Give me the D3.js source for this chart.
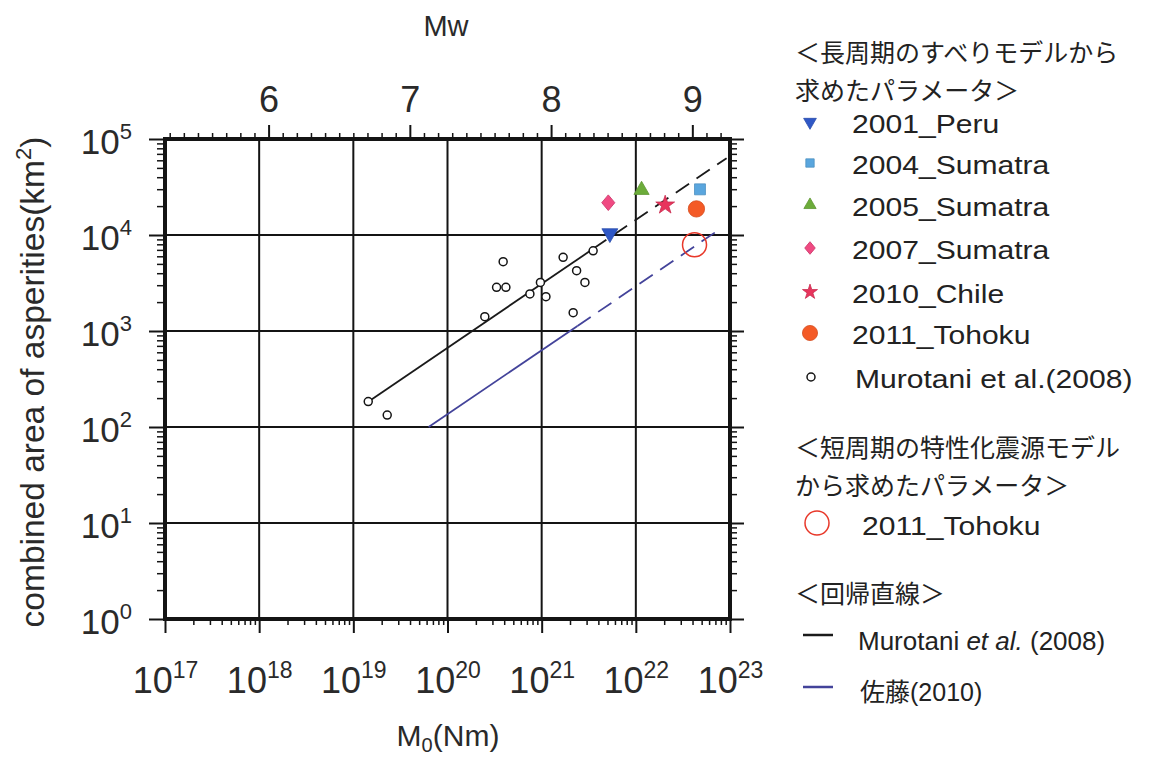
<!DOCTYPE html>
<html>
<head>
<meta charset="utf-8">
<script src="https://cdn.jsdelivr.net/npm/d3@7"></script>
<style>
  body { margin: 0; background: #fff; }
  svg { display: block; font-family: "Liberation Sans", Arial, sans-serif; }
  .jp { font-family: "Noto Sans CJK JP", sans-serif; }
</style>
</head>
<body>
<svg id="chart" width="1155" height="759"></svg>
<script>
// Murotani et al. (2008) data set
const murotaniM0 = [1.44e19, 2.29e19, 2.49e20, 3.9e20, 3.32e20, 4.17e20, 7.5e20, 9.7e20, 1.11e21, 1.69e21, 2.35e21, 2.88e21, 2.16e21, 3.52e21];
const murotaniArea = [184, 133, 1410, 5270, 2850, 2850, 2430, 3210, 2280, 5860, 4250, 3210, 1550, 6850];

// long period slip models
const quakeNames = ["2001_Peru", "2004_Sumatra", "2005_Sumatra", "2007_Sumatra", "2010_Chile", "2011_Tohoku"];
const quakeM0 = [5.3e21, 4.8e22, 1.15e22, 5.1e21, 2.05e22, 4.4e22];
const quakeArea = [10400, 29900, 29400, 21700, 20500, 18700];
const quakeColors = ["#2f58c6", "#5aa6de", "#6cac3a", "#f04a82", "#e8345c", "#f45a26"];
const quakeShapes = ["triDown", "square", "triangle", "diamond", "star", "circle"];

// short period characterized source model
const shortNames = ["2011_Tohoku"];
const shortM0 = [4.2e22];
const shortArea = [7900];

// regression lines  A = coef * M0^(2/3)
const regNames = ["Murotani", "佐藤(2010)"];
const regCoef = [3.1e-11, 6.3e-12];
const regSolid = [[1.44e19, 3.52e21], [6.3e19, 2.4e21]];
const regDashed = [[3.52e21, 9.2e22], [2.4e21, 7.2e22]];
const regColors = ["#1a1a1a", "#43439a"];

// axes
const xMajor = [1e17, 1e18, 1e19, 1e20, 1e21, 1e22, 1e23];
const yMajor = [1, 10, 100, 1e3, 1e4, 1e5];
const mwMajor = [6, 7, 8, 9];

const svg = d3.select("#chart");
const x = d3.scaleLog().domain([1e17, 1e23]).range([165, 730]);
const y = d3.scaleLog().domain([1, 1e5]).range([619, 139]);
// Mw = (log10 M0 - 9.1) / 1.5
const mw = d3.scaleLinear().domain([(17 - 9.1) / 1.5, (23 - 9.1) / 1.5]).range([165, 730]);

const xMinor = x.ticks().filter(v => !xMajor.includes(v));
const yMinor = y.ticks().filter(v => !yMajor.includes(v));
const mwMinor = d3.range(53, 93).map(v => v / 10).filter(v => !mwMajor.includes(v));

const ink = "#141414";

// gridlines
svg.append("g").selectAll("line")
  .data(xMajor.slice(1, -1)).join("line")
  .attr("x1", d => x(d)).attr("x2", d => x(d))
  .attr("y1", y(1)).attr("y2", y(1e5))
  .attr("stroke", ink).attr("stroke-width", 2);
svg.append("g").selectAll("line")
  .data(yMajor.slice(1, -1)).join("line")
  .attr("x1", x(1e17)).attr("x2", x(1e23))
  .attr("y1", d => y(d)).attr("y2", d => y(d))
  .attr("stroke", ink).attr("stroke-width", 2);

function styleAxis(g, w) {
  g.select(".domain").remove();
  g.selectAll(".tick line").attr("stroke", ink).attr("stroke-width", w);
}

function powLabel(sel, fs, sup) {
  sel.each(function (d) {
    const t = d3.select(this).text("");
    t.append("tspan").text("10");
    t.append("tspan").attr("font-size", sup).attr("dy", -fs * 0.42)
      .text(Math.round(Math.log10(d)));
  });
}

// bottom axis
svg.append("g").attr("transform", `translate(0,${y(1)})`)
  .call(d3.axisBottom(x).tickValues(xMinor).tickSize(6).tickFormat(""))
  .call(g => styleAxis(g, 1.5));
const gB = svg.append("g").attr("transform", `translate(0,${y(1)})`)
  .call(d3.axisBottom(x).tickValues(xMajor).tickSize(14))
  .call(g => styleAxis(g, 2));
gB.selectAll(".tick text").attr("y", 74).attr("dy", null)
  .attr("fill", "#2a2a2a").attr("font-size", 36)
  .call(powLabel, 36, 23);

// left axis
svg.append("g").attr("transform", `translate(${x(1e17)},0)`)
  .call(d3.axisLeft(y).tickValues(yMinor).tickSize(8).tickFormat(""))
  .call(g => styleAxis(g, 1.5));
const gL = svg.append("g").attr("transform", `translate(${x(1e17)},0)`)
  .call(d3.axisLeft(y).tickValues(yMajor).tickSize(16))
  .call(g => styleAxis(g, 2));
gL.selectAll(".tick text").attr("x", -33).attr("y", 14).attr("dy", null)
  .attr("fill", "#2a2a2a").attr("font-size", 35)
  .call(powLabel, 35, 22);

// right axis
svg.append("g").attr("transform", `translate(${x(1e23)},0)`)
  .call(d3.axisRight(y).tickValues(yMinor).tickSize(7).tickFormat(""))
  .call(g => styleAxis(g, 1.5));
svg.append("g").attr("transform", `translate(${x(1e23)},0)`)
  .call(d3.axisRight(y).tickValues(yMajor).tickSize(14).tickFormat(""))
  .call(g => styleAxis(g, 2));

// top axis (Mw)
svg.append("g").attr("transform", `translate(0,${y(1e5)})`)
  .call(d3.axisTop(mw).tickValues(mwMinor).tickSize(6).tickFormat(""))
  .call(g => styleAxis(g, 1.5));
const gT = svg.append("g").attr("transform", `translate(0,${y(1e5)})`)
  .call(d3.axisTop(mw).tickValues(mwMajor).tickSize(14).tickFormat(d3.format("d")))
  .call(g => styleAxis(g, 2));
gT.selectAll(".tick text").attr("y", -27).attr("dy", null)
  .attr("fill", "#2a2a2a").attr("font-size", 36);

// frame
svg.append("rect")
  .attr("x", x(1e17)).attr("y", y(1e5))
  .attr("width", x(1e23) - x(1e17)).attr("height", y(1) - y(1e5))
  .attr("fill", "none").attr("stroke", ink).attr("stroke-width", 4);

// regression lines
const regY = (i, m) => y(regCoef[i] * Math.pow(m, 2 / 3));
regNames.forEach((n, i) => {
  svg.append("line")
    .attr("x1", x(regSolid[i][0])).attr("y1", regY(i, regSolid[i][0]))
    .attr("x2", x(regSolid[i][1])).attr("y2", regY(i, regSolid[i][1]))
    .attr("stroke", regColors[i]).attr("stroke-width", 1.8);
  svg.append("line")
    .attr("x1", x(regDashed[i][0])).attr("y1", regY(i, regDashed[i][0]))
    .attr("x2", x(regDashed[i][1])).attr("y2", regY(i, regDashed[i][1]))
    .attr("stroke", regColors[i]).attr("stroke-width", 1.8)
    .attr("stroke-dasharray", "16,9");
});

// Murotani points
svg.append("g").selectAll("circle")
  .data(murotaniM0).join("circle")
  .attr("cx", d => x(d)).attr("cy", (d, i) => y(murotaniArea[i]))
  .attr("r", 4).attr("fill", "#fff").attr("stroke", ink).attr("stroke-width", 1.5);

// marker shapes
const shapeMap = {
  triDown: d3.symbolTriangle, square: d3.symbolSquare, triangle: d3.symbolTriangle,
  diamond: d3.symbolSquare, star: d3.symbolStar, circle: d3.symbolCircle
};
const shapeTf = { triDown: "rotate(180)", diamond: "scale(1,1.2) rotate(45)" };
function marker(g, shape, color, size) {
  g.append("path")
    .attr("d", d3.symbol(shapeMap[shape], size)())
    .attr("transform", shapeTf[shape] || null)
    .attr("fill", color)
    .attr("stroke", d3.color(color).darker(0.4))
    .attr("stroke-width", 0.8);
}
const plotSizes = { triDown: 110, square: 120, triangle: 100, diamond: 85, star: 110, circle: 210 };
quakeNames.forEach((n, i) => {
  const g = svg.append("g").attr("transform", `translate(${x(quakeM0[i])},${y(quakeArea[i])})`);
  marker(g, quakeShapes[i], quakeColors[i], plotSizes[quakeShapes[i]]);
});

// short period Tohoku
svg.append("g").selectAll("circle")
  .data(shortM0).join("circle")
  .attr("cx", d => x(d)).attr("cy", (d, i) => y(shortArea[i]))
  .attr("r", 12).attr("fill", "none").attr("stroke", "#e8382a").attr("stroke-width", 1.5);

// axis titles
svg.append("text").attr("x", 446).attr("y", 36).attr("text-anchor", "middle")
  .attr("font-size", 29).attr("fill", "#2a2a2a").text("Mw");
const xt = svg.append("text").attr("x", 448).attr("y", 746).attr("text-anchor", "middle")
  .attr("font-size", 30).attr("fill", "#2a2a2a");
xt.append("tspan").text("M");
xt.append("tspan").attr("font-size", 20).attr("dy", 6).text("0");
xt.append("tspan").attr("dy", -6).text("(Nm)");
const yt = svg.append("text").attr("transform", "translate(44,382) rotate(-90)")
  .attr("text-anchor", "middle").attr("font-size", 33.5).attr("fill", "#2a2a2a");
yt.append("tspan").text("combined area of asperities(km");
yt.append("tspan").attr("font-size", 22).attr("dy", -13).text("2");
yt.append("tspan").attr("dy", 13).text(")");

// legend
const leg = svg.append("g").attr("fill", "#222");
const jpLine = (txt, yy) => leg.append("text").attr("class", "jp")
  .attr("x", 795).attr("y", yy).attr("font-size", 25).text(txt);
jpLine("＜長周期のすべりモデルから", 62);
jpLine("求めたパラメータ＞", 100);

const legRows = [122, 163, 205, 248, 292, 333];
const legSizes = { triDown: 70, square: 70, triangle: 65, diamond: 55, star: 70, circle: 180 };
quakeNames.forEach((n, i) => {
  const g = leg.append("g").attr("transform", `translate(810,${legRows[i]})`);
  marker(g, quakeShapes[i], quakeColors[i], legSizes[quakeShapes[i]]);
  leg.append("text").attr("transform", `translate(852,${legRows[i] + 11}) scale(1.18,1)`)
    .attr("font-size", 25.5).text(n);
});
leg.append("circle").attr("cx", 811).attr("cy", 377).attr("r", 4)
  .attr("fill", "#fff").attr("stroke", ink).attr("stroke-width", 1.5);
leg.append("text").attr("transform", "translate(855,388) scale(1.18,1)")
  .attr("font-size", 25.5).text("Murotani et al.(2008)");

jpLine("＜短周期の特性化震源モデル", 457);
jpLine("から求めたパラメータ＞", 495);
leg.append("circle").attr("cx", 817).attr("cy", 523).attr("r", 12)
  .attr("fill", "none").attr("stroke", "#e8382a").attr("stroke-width", 1.5);
leg.append("text").attr("transform", "translate(862,535) scale(1.18,1)")
  .attr("font-size", 25.5).text(shortNames[0]);

jpLine("＜回帰直線＞", 603);
const regRows = [635, 687];
regNames.forEach((n, i) => {
  leg.append("line").attr("x1", 803).attr("x2", 833)
    .attr("y1", regRows[i]).attr("y2", regRows[i])
    .attr("stroke", regColors[i]).attr("stroke-width", 2.5);
});
const r1 = leg.append("text").attr("x", 858).attr("y", 650).attr("font-size", 26);
r1.append("tspan").text("Murotani ");
r1.append("tspan").attr("font-style", "italic").text("et al.");
r1.append("tspan").text(" (2008)");
const r2 = leg.append("text").attr("x", 860).attr("y", 701).attr("font-size", 25);
r2.append("tspan").attr("class", "jp").text("佐藤");
r2.append("tspan").text("(2010)");
</script>
</body>
</html>
